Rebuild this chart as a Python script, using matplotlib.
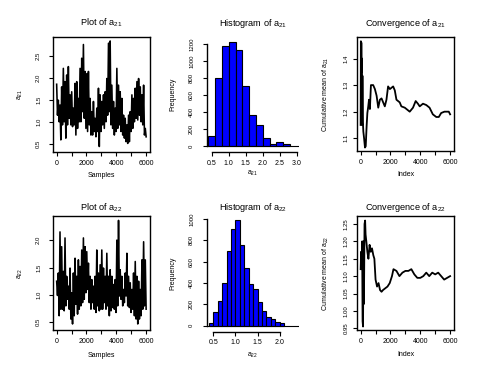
import numpy as np
import matplotlib
matplotlib.use("Agg")
import matplotlib.pyplot as plt

plt.rcParams['font.family'] = ['Liberation Sans', 'DejaVu Sans']
plt.rcParams['mathtext.fontset'] = 'custom'
plt.rcParams['mathtext.rm'] = 'Liberation Sans'
plt.rcParams['mathtext.it'] = 'Liberation Sans'

# ---------------- data ----------------
# trace plots: upper / lower envelope of the MCMC chain, ~every 110 samples
a21_hi = [1.86, 1.50, 1.39, 1.80, 2.22, 1.92, 2.07, 2.26, 1.62, 1.69, 1.32, 1.88, 1.92, 1.54,
          2.22, 2.45, 2.76, 2.15, 2.10, 2.15, 1.54, 1.24, 1.47, 1.09, 1.32, 1.77, 1.62, 1.47,
          1.62, 1.69, 1.99, 2.79, 2.84, 1.84, 1.47, 1.32, 2.22, 1.84, 1.69, 1.54, 1.16, 1.09,
          0.94, 1.16, 1.24, 1.62, 1.54, 1.77, 1.92, 1.99, 1.80, 1.62, 1.84, 0.86]
a21_lo = [1.16, 1.01, 0.60, 0.94, 1.01, 0.64, 0.94, 1.09, 0.94, 0.90, 0.94, 0.71, 0.86, 1.01,
          1.01, 1.24, 1.09, 0.86, 0.79, 0.94, 0.71, 0.71, 0.79, 0.67, 0.79, 0.45, 0.79, 0.94,
          0.86, 1.01, 1.16, 1.24, 0.94, 0.86, 0.71, 0.79, 0.86, 0.94, 0.79, 0.71, 0.64, 0.56,
          0.52, 0.56, 0.79, 0.86, 1.01, 1.09, 1.05, 1.16, 1.01, 0.94, 0.71, 0.67]
a22_hi = [1.25, 1.40, 2.15, 1.88, 1.43, 2.04, 1.34, 1.16, 1.49, 1.04, 1.40, 1.67, 1.34, 1.64,
          1.52, 1.82, 2.04, 1.88, 1.79, 1.58, 1.34, 1.28, 1.16, 1.34, 1.82, 1.40, 1.55, 1.82,
          1.49, 1.34, 1.76, 1.34, 1.46, 1.34, 1.19, 1.28, 2.00, 2.36, 1.46, 1.34, 1.10, 1.40,
          1.76, 1.34, 1.22, 1.10, 1.40, 1.61, 1.34, 1.25, 1.10, 1.64, 1.97, 1.64]
a22_lo = [0.99, 0.62, 0.74, 0.74, 0.71, 0.80, 0.92, 0.74, 0.56, 0.47, 0.62, 0.83, 0.65, 0.74,
          0.80, 0.86, 0.92, 1.04, 1.10, 0.86, 0.74, 0.86, 0.74, 0.68, 0.80, 0.71, 0.74, 0.74,
          0.86, 0.74, 0.80, 0.62, 0.71, 0.77, 0.74, 0.68, 0.80, 0.98, 0.92, 0.80, 0.86, 0.98,
          0.80, 0.77, 0.68, 0.74, 0.62, 0.56, 0.47, 0.56, 0.62, 0.74, 0.80, 0.74]
n_samples = 6000

# histograms
h1_edges = [0.4, 0.6, 0.8, 1.0, 1.2, 1.4, 1.6, 1.8, 2.0, 2.2, 2.4, 2.6, 2.8]
h1_counts = [116, 796, 1177, 1223, 1126, 711, 369, 245, 89, 19, 50, 19]
h2_edges = [0.4, 0.5, 0.6, 0.7, 0.8, 0.9, 1.0, 1.1, 1.2, 1.3, 1.4, 1.5, 1.6, 1.7, 1.8, 1.9, 2.0, 2.1]
h2_counts = [22, 131, 234, 403, 703, 903, 990, 756, 544, 388, 340, 225, 138, 84, 62, 37, 28]

# cumulative means
c1_idx = [0, 15, 30, 45, 60, 80, 100, 120, 150, 180, 230, 290, 340, 400, 450, 510, 560, 620,
          690, 840, 955, 1070, 1180, 1290, 1400, 1510, 1620, 1730, 1840, 1960, 2070, 2180, 2290,
          2400, 2510, 2620, 2730, 2960, 3180, 3290, 3510, 3690, 3840, 3960, 4180, 4400, 4620,
          4840, 5070, 5240, 5400, 5620, 5780, 5910, 6000]
c1_val = [1.15, 1.465, 1.25, 1.46, 1.35, 1.40, 1.15, 1.335, 1.16, 1.125, 1.10, 1.065, 1.07, 1.145,
          1.195, 1.22, 1.245, 1.21, 1.30, 1.30, 1.285, 1.26, 1.215, 1.245, 1.25, 1.235, 1.22,
          1.245, 1.295, 1.285, 1.29, 1.295, 1.28, 1.245, 1.24, 1.235, 1.22, 1.215, 1.205, 1.20,
          1.215, 1.24, 1.23, 1.22, 1.23, 1.225, 1.215, 1.19, 1.18, 1.18, 1.195, 1.20, 1.20, 1.20,
          1.19]
c2_idx = [0, 30, 60, 100, 130, 160, 190, 220, 260, 300, 330, 380, 450, 520, 600, 680, 760, 850,
          920, 1000, 1100, 1200, 1300, 1400, 1500, 1650, 1800, 1950, 2100, 2200, 2400, 2600,
          2800, 3000, 3200, 3400, 3600, 3800, 4000, 4200, 4400, 4600, 4800, 5000, 5200, 5400,
          5600, 5800, 6000]
c2_val = [1.12, 1.17, 1.12, 1.20, 0.97, 0.955, 1.20, 1.02, 1.25, 1.26, 1.22, 1.20, 1.17, 1.15,
          1.19, 1.17, 1.18, 1.16, 1.15, 1.09, 1.07, 1.08, 1.06, 1.055, 1.06, 1.065, 1.07, 1.08,
          1.10, 1.12, 1.115, 1.10, 1.11, 1.115, 1.115, 1.12, 1.105, 1.095, 1.095, 1.10, 1.11,
          1.10, 1.11, 1.105, 1.11, 1.10, 1.09, 1.095, 1.10]

# ---------------- figure ----------------
W, H = 480, 370
fig = plt.figure(figsize=(W / 100, H / 100), dpi=100)
fig.patch.set_facecolor('white')

TICK_X = 5.0
TICK_Y = 4.3
LAB = 5.0
TITLE = 6.6


def px_axes(l, t, r, b):
    return fig.add_axes([l / W, 1 - b / H, (r - l) / W, (b - t) / H])


def style(ax, ypad, xpad=3.0, box=True):
    for s in ax.spines.values():
        s.set_linewidth(1.0)
        s.set_color('black')
    if not box:
        ax.spines['top'].set_visible(False)
        ax.spines['right'].set_visible(False)
    ax.tick_params(axis='both', direction='out', length=2.6, width=0.8, color='black')
    ax.tick_params(axis='x', labelsize=TICK_X, pad=xpad)
    ax.tick_params(axis='y', labelsize=TICK_Y, pad=ypad)


def ftext(x, y, s, size, rot=0):
    fig.text(x / W, 1 - y / H, s, fontsize=size, rotation=rot, ha='center', va='center')


def trace(ax, hi, lo, ylim, yt):
    seq = np.column_stack([hi, lo]).ravel()
    xs = np.linspace(0, n_samples, len(seq))
    ax.plot(xs, seq, color='black', lw=1.15)
    ax.set_xlim(-245, 6260)
    ax.set_ylim(*ylim)
    ax.set_xticks([0, 1000, 2000, 3000, 4000, 5000, 6000])
    ax.set_xticklabels(['0', '', '2000', '', '4000', '', '6000'])
    ax.set_yticks(yt)
    ax.set_yticklabels([f'{v:.1f}' for v in yt], rotation=90, va='center')
    style(ax, ypad=6.0)


def hist(ax, edges, counts, xlim, ylim, xt, yt, xbounds):
    e = np.array(edges)
    ax.bar(e[:-1], counts, width=np.diff(e), align='edge', color='#0000FF',
           edgecolor='black', linewidth=0.8)
    ax.axhline(0, color='black', lw=0.8)
    ax.set_xlim(*xlim)
    ax.set_ylim(*ylim)
    ax.set_xticks(xt)
    ax.set_xticklabels([f'{v:.1f}' for v in xt])
    ax.set_yticks(yt)
    ax.set_yticklabels([str(v) for v in yt], rotation=90, va='center')
    style(ax, ypad=6.5, box=False)
    ax.spines['left'].set_bounds(yt[0], yt[-1])
    ax.spines['bottom'].set_bounds(*xbounds)


def conv(ax, idx, val, ylim, yt, fmt):
    ax.plot(idx, val, color='black', lw=1.3)
    ax.set_xlim(-245, 6260)
    ax.set_ylim(*ylim)
    ax.set_xticks([0, 1000, 2000, 3000, 4000, 5000, 6000])
    ax.set_xticklabels(['0', '', '2000', '', '4000', '', '6000'])
    ax.set_yticks(yt)
    ax.set_yticklabels([fmt.format(v) for v in yt], rotation=90, va='center')
    style(ax, ypad=3.5)


# row 1
ax1 = px_axes(53, 37, 150, 152)
trace(ax1, a21_hi, a21_lo, (0.326, 2.93), [0.5, 1.0, 1.5, 2.0, 2.5])
ax2 = px_axes(206.7, 37, 299, 152)
hist(ax2, h1_edges, h1_counts, (0.353, 3.06), (-70, 1282),
     [0.5, 1.0, 1.5, 2.0, 2.5, 3.0], [0, 200, 400, 600, 800, 1000, 1200], (0.5, 3.0))
ax3 = px_axes(357, 37, 454, 151)
conv(ax3, c1_idx, c1_val, (1.052, 1.481), [1.1, 1.2, 1.3, 1.4], '{:.1f}')

# row 2
ax4 = px_axes(53, 216, 150, 330)
trace(ax4, a22_hi, a22_lo, (0.36, 2.44), [0.5, 1.0, 1.5, 2.0])
ax5 = px_axes(206.7, 216, 299, 331.7)
hist(ax5, h2_edges, h2_counts, (0.349, 2.44), (-56, 1028),
     [0.5, 1.0, 1.5, 2.0], [0, 200, 400, 600, 800, 1000], (0.5, 2.0))
ax6 = px_axes(357, 216, 454, 330)
conv(ax6, c2_idx, c2_val, (0.945, 1.273), [0.95, 1.00, 1.05, 1.10, 1.15, 1.20, 1.25], '{:.2f}')

# titles and labels
ftext(101.5, 23, r'Plot of a$_{21}$', TITLE)
ftext(253, 23, r'Histogram of a$_{21}$', TITLE)
ftext(405.5, 23, r'Convergence of a$_{21}$', TITLE)
ftext(101.5, 207.5, r'Plot of a$_{22}$', TITLE)
ftext(253, 207.5, r'Histogram of a$_{22}$', TITLE)
ftext(405.5, 207.5, r'Convergence of a$_{22}$', TITLE)

ftext(101.5, 175, 'Samples', LAB)
ftext(253, 173.5, r'a$_{21}$', LAB)
ftext(405.5, 174.5, 'Index', LAB)
ftext(101.5, 355.5, 'Samples', LAB)
ftext(253, 355, r'a$_{22}$', LAB)
ftext(405.5, 355, 'Index', LAB)

ftext(20.5, 94.5, r'a$_{21}$', LAB, 90)
ftext(173.3, 94.5, 'Frequency', LAB, 90)
ftext(325.5, 94, r'Cumulative mean of a$_{21}$', LAB, 90)
ftext(20.5, 273, r'a$_{22}$', LAB, 90)
ftext(173.3, 273, 'Frequency', LAB, 90)
ftext(325.5, 273, r'Cumulative mean of a$_{22}$', LAB, 90)

fig.savefig('out.png', dpi=100, facecolor='white')
